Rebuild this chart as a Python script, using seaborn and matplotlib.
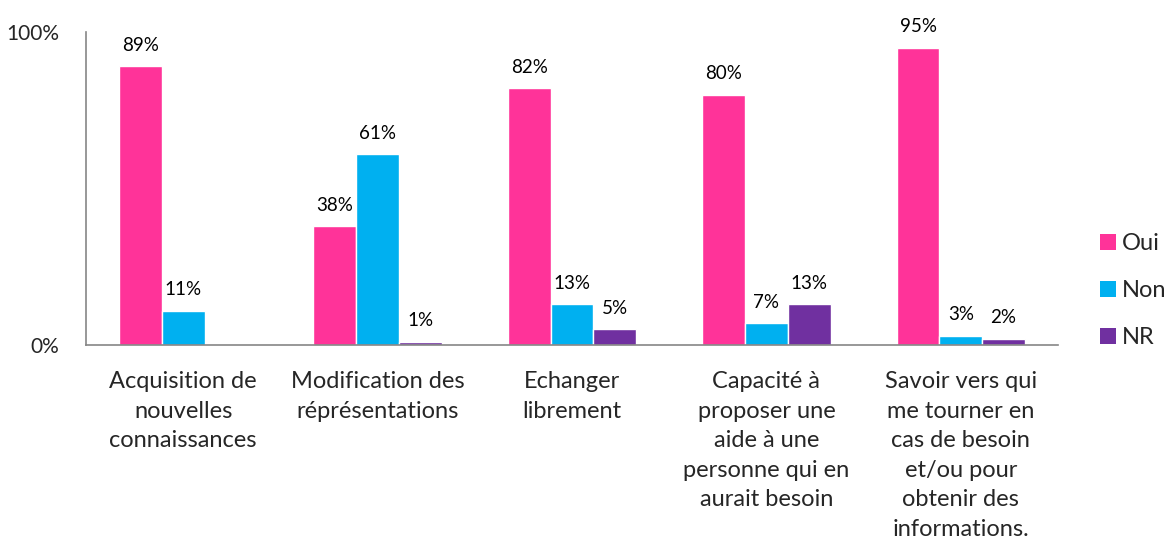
import matplotlib
matplotlib.use("Agg")
import matplotlib.pyplot as plt
import seaborn as sns
import pandas as pd
import numpy as np
from matplotlib.patches import Patch
from matplotlib.ticker import FixedLocator

categories = [
    "Acquisition de\nnouvelles\nconnaissances",
    "Modification des\nréprésentations",
    "Echanger\nlibrement",
    "Capacité à\nproposer une\naide à une\npersonne qui en\naurait besoin",
    "Savoir vers qui\nme tourner en\ncas de besoin\net/ou pour\nobtenir des\ninformations.",
]
series = ["Oui", "Non", "NR"]
oui = [89, 38, 82, 80, 95]
non = [11, 61, 13, 7, 3]
nr = [0, 1, 5, 13, 2]
colors = ["#FF3399", "#00B0F0", "#7030A0"]

rows = []
for i, c in enumerate(categories):
    for s, vals in zip(series, [oui, non, nr]):
        rows.append({"cat": c, "serie": s, "val": vals[i]})
df = pd.DataFrame(rows)

sns.set_style("white")
plt.rcParams["font.family"] = ["Lato", "DejaVu Sans"]

fig = plt.figure(figsize=(11.68, 5.52), dpi=100)
ax = fig.add_axes([86/1168, 1-345/552, (1058-86)/1168, (345-32)/552])

sns.barplot(data=df, x="cat", y="val", hue="serie", hue_order=series,
            palette=colors, width=0.66, ax=ax, legend=False, saturation=1)

ax.set_ylim(0, 100)
ax.set_xlim(-0.5, len(categories) - 0.5)
ax.set_xlabel("")
ax.set_ylabel("")

# value labels
for container, s in zip(ax.containers, series):
    labels = [f"{v:.0f}%" if v > 0 else "" for v in container.datavalues]
    ax.bar_label(container, labels=labels, padding=9, fontsize=13.5, color="#000000")

for sp in ["top", "right"]:
    ax.spines[sp].set_visible(False)
for sp in ["left", "bottom"]:
    ax.spines[sp].set_color("#868686")
    ax.spines[sp].set_linewidth(1.2)

ax.set_yticks([0, 100])
ax.set_yticklabels(["0%", "100%"], fontsize=15)
ax.tick_params(axis="y", length=6, color="#868686", width=1.2, pad=13)

ax.set_xticks(range(len(categories)))
ax.set_xticklabels(categories, fontsize=17, linespacing=1.5)
ax.tick_params(axis="x", which="major", length=0, pad=19)
ax.xaxis.set_minor_locator(FixedLocator(np.arange(-0.5, len(categories), 1)))
ax.tick_params(axis="x", which="minor", length=6, color="#868686", width=1.2)

handles = [Patch(facecolor=c, edgecolor="none") for c in colors]
fig.legend(handles, series, loc="upper left", bbox_to_anchor=(1100/1168, 1-233/552),
           frameon=False, fontsize=17, handlelength=0.68, handleheight=0.68,
           handletextpad=0.25, labelspacing=1.1, borderaxespad=0, borderpad=0)

fig.savefig("out.png", dpi=100)
